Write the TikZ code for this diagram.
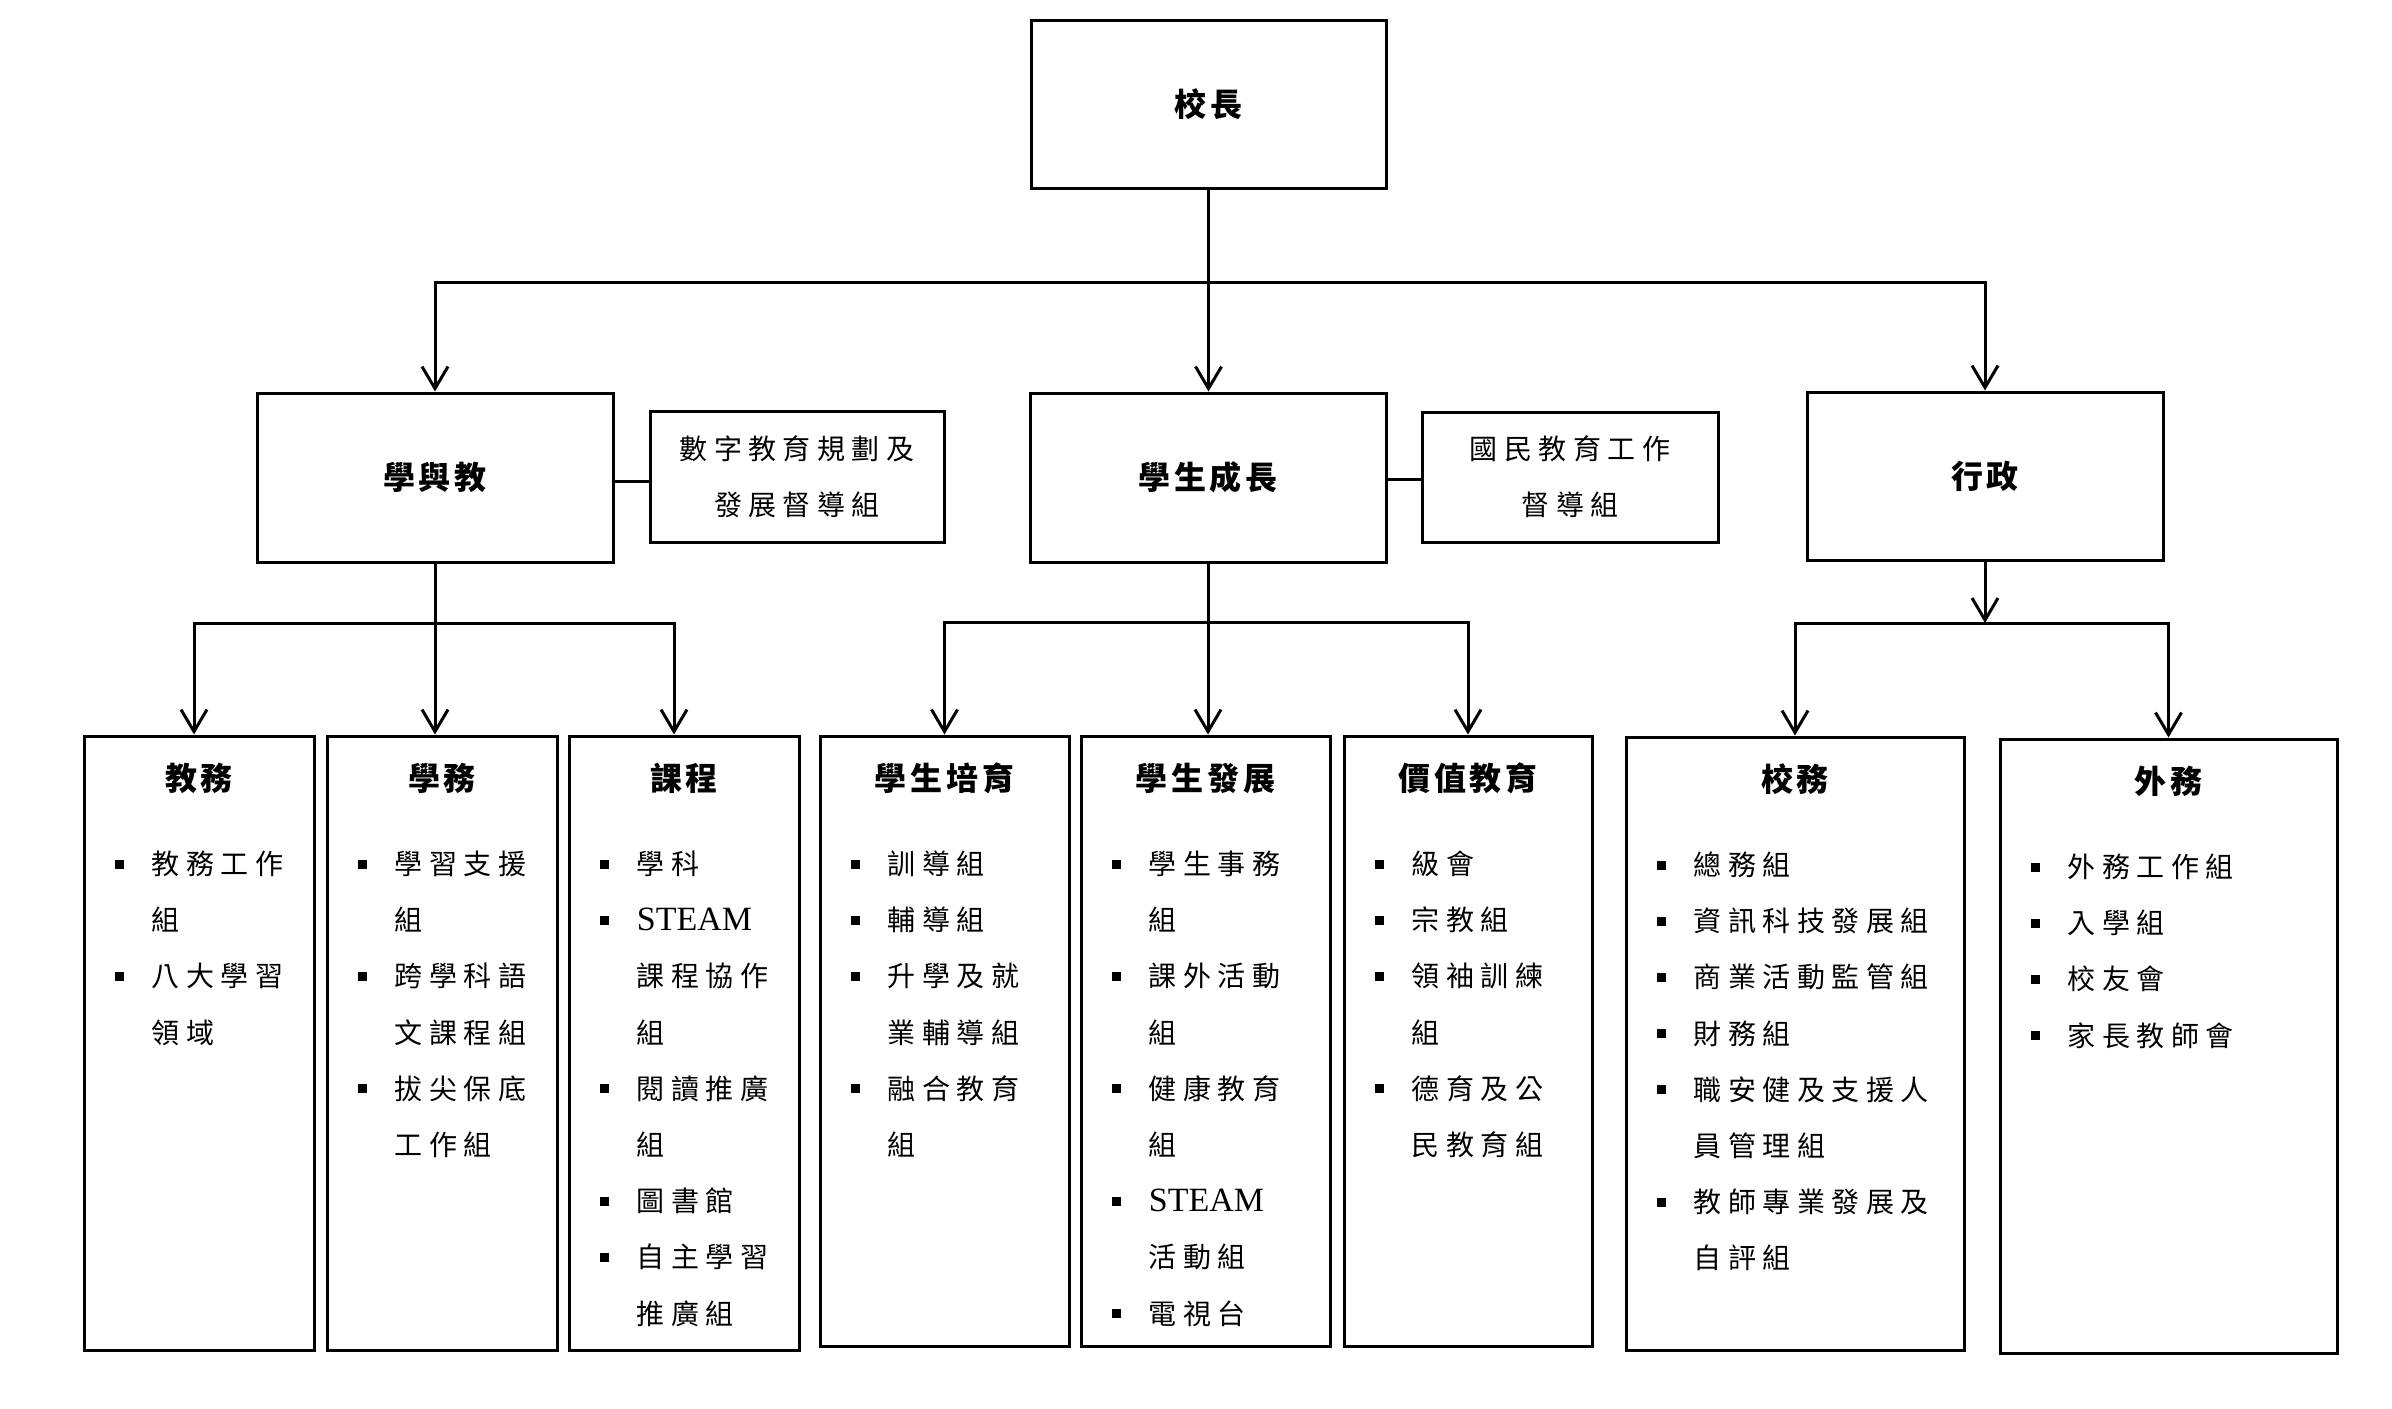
\documentclass[tikz,border=0pt]{standalone}
\usepackage{fontspec}
\setmainfont{Liberation Serif}
\newfontfamily\cjk[LetterSpace=23]{Noto Sans CJK TC}
\newfontfamily\cjkt[LetterSpace=12]{Noto Sans CJK TC}
\newfontfamily\lat{Liberation Serif}
\usetikzlibrary{arrows.meta,calc}
\newcommand\blist[2]{%
  \foreach [count=\i] \b/\t in {#2}{%
    \node[anchor=base west, inner sep=0pt, font=\cjk\fontsize{14}{28}\selectfont]
      at ($(#1.north west)+(69,140+56.2*\i-56.2)$) {\t};
    \ifnum\b=1
      \fill ($(#1.north west)+(32,134+56.2*\i-56.2)$) rectangle ++(9,-9);
    \fi
  }%
}
\newcommand\btitle[2]{%
  \node[anchor=base, inner sep=0pt, font=\cjkt\bfseries\fontsize{16}{20}\selectfont]
    at ($(#1.north)+(0,56)$) {#2};%
}
\begin{document}
\begin{tikzpicture}[x=0.5pt,y=-0.5pt,
  bx/.style n args={2}{draw, line width=1.5pt, inner sep=0pt,
    minimum width=#1*0.5pt, minimum height=#2*0.5pt},
  ttl/.style={font=\cjkt\bfseries\fontsize{16}{20}\selectfont},
  sub/.style={font=\cjk\fontsize{14}{28}\selectfont, align=center},
  conn/.style={line width=1.5pt},
  arr/.style={line width=1.5pt, -{Straight Barb[length=11pt,width=13pt]}}]
\useasboundingbox (0,0) rectangle (2392,1408);

% top level
\node[bx={355}{168}, ttl] (xz) at (1208.5,104) {校長};
\node[bx={356}{169}, ttl] (xyj) at (435,477.5) {學與教};
\node[bx={294}{131}, sub] (sz) at (797,477) {數字教育規劃及\\發展督導組};
\node[bx={356}{169}, ttl] (xsc) at (1208,477.5) {學生成長};
\node[bx={296}{130}, sub] (gm) at (1570,477) {國民教育工作\\督導組};
\node[bx={356}{168}, ttl] (xzh) at (1985,476) {行政};

% bottom boxes
\node[bx={230}{614}] (jw) at (199,1043) {};
\node[bx={230}{614}] (xw2) at (442,1043) {};
\node[bx={230}{614}] (kc) at (684,1043) {};
\node[bx={249}{610}] (sp) at (944.5,1041) {};
\node[bx={249}{610}] (sf) at (1205.5,1041) {};
\node[bx={248}{610}] (jz) at (1468,1041) {};
\node[bx={338}{613}] (xw) at (1795,1043.5) {};
\node[bx={337}{614}] (ww) at (2168.5,1046) {};

% connectors
\coordinate (bus) at (1208,282);
\draw[arr] (xz.south) -- (xz.south |- xsc.north);
\draw[arr] (bus) -| (xyj.north);
\draw[arr] (bus) -| (xzh.north);
\draw[conn] (xyj.east |- 0,481) -- (sz.west |- 0,481);
\draw[conn] (xsc.east |- 0,479) -- (gm.west |- 0,479);

\coordinate (b1) at (435,623);
\draw[conn] (xyj.south) -- (b1);
\draw[arr] (b1) -| ([xshift=-2.5pt]jw.north);
\draw[arr] (b1) -- (b1 |- xw2.north);
\draw[arr] (b1) -| ([xshift=-5pt]kc.north);

\coordinate (b2) at (1208,622);
\draw[arr] (xsc.south) -- (xsc.south |- sf.north);
\draw[arr] (b2) -| (sp.north);
\draw[arr] (b2) -| (jz.north);

\coordinate (b3) at (1985,623);
\draw[arr] (xzh.south) -- (b3);
\draw[arr] (b3) -| (xw.north);
\draw[arr] (b3) -| (ww.north);

% titles and lists
\btitle{jw}{教務}
\blist{jw}{1/教務工作, 0/組, 1/八大學習, 0/領域}
\btitle{xw2}{學務}
\blist{xw2}{1/學習支援, 0/組, 1/跨學科語, 0/文課程組, 1/拔尖保底, 0/工作組}
\btitle{kc}{課程}
\blist{kc}{1/學科, 1/{\lat\fontsize{17}{28}\selectfont STEAM}, 0/課程協作, 0/組, 1/閱讀推廣, 0/組, 1/圖書館, 1/自主學習, 0/推廣組}
\btitle{sp}{學生培育}
\blist{sp}{1/訓導組, 1/輔導組, 1/升學及就, 0/業輔導組, 1/融合教育, 0/組}
\btitle{sf}{學生發展}
\blist{sf}{1/學生事務, 0/組, 1/課外活動, 0/組, 1/健康教育, 0/組, 1/{\lat\fontsize{17}{28}\selectfont STEAM}, 0/活動組, 1/電視台}
\btitle{jz}{價值教育}
\blist{jz}{1/級會, 1/宗教組, 1/領袖訓練, 0/組, 1/德育及公, 0/民教育組}
\btitle{xw}{校務}
\blist{xw}{1/總務組, 1/資訊科技發展組, 1/商業活動監管組, 1/財務組, 1/職安健及支援人, 0/員管理組, 1/教師專業發展及, 0/自評組}
\btitle{ww}{外務}
\blist{ww}{1/外務工作組, 1/入學組, 1/校友會, 1/家長教師會}
\end{tikzpicture}
\end{document}
